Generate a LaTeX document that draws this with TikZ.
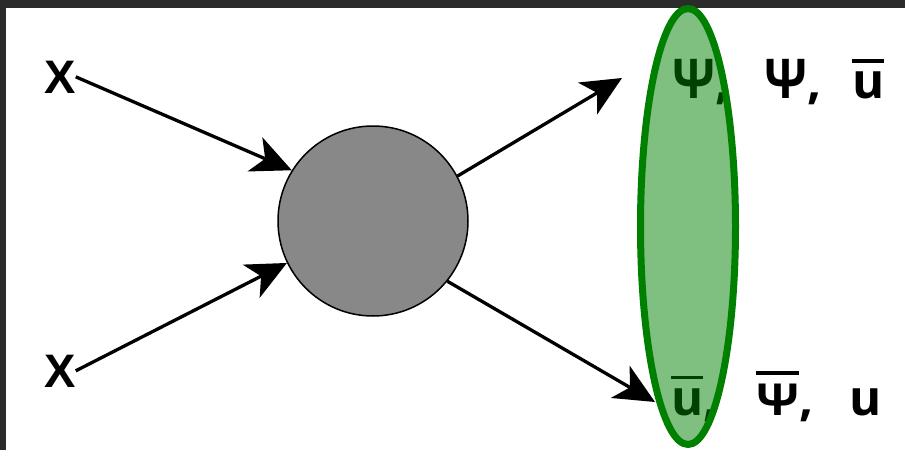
\documentclass[tikz,border=0pt]{standalone}
\usepackage{fontspec}
\setmainfont{Open Sans}
\newfontfamily\xfont{Liberation Sans}
\usetikzlibrary{arrows.meta,shapes.geometric}
\definecolor{framegray}{HTML}{2B2B2B}
\definecolor{dgreen}{HTML}{008000}
\definecolor{blobgray}{HTML}{888888}
\newcommand\barred[2]{\leavevmode\vbox{\hrule height 3.5pt\kern #1\hbox{#2}}}
\begin{document}
\begin{tikzpicture}[x=1pt,y=-1pt,
  blob/.style={circle,draw=black,line width=1.5pt,fill=blobgray,minimum size=190pt,inner sep=0pt},
  xlab/.style={anchor=base west,inner sep=0pt,font=\xfont\bfseries\fontsize{47}{47}\selectfont},
  lab/.style={anchor=base west,inner sep=0pt,font=\bfseries\fontsize{49}{49}\selectfont},
  arr/.style={line width=3.3pt,-{Stealth[length=40pt,width=37pt,inset=11pt]}},
  oval/.style={ellipse,draw=dgreen,line width=7pt,fill=dgreen,fill opacity=0.5,draw opacity=1,minimum width=95pt,minimum height=436pt,inner sep=0pt}]
\fill[framegray] (0,0) rectangle (905,450);
\fill[white] (6,8) rectangle (905,450);
\useasboundingbox (0,0) rectangle (905,450);
\node[blob] (c) at (373,221) {};
\node[xlab] (x1) at (44,93) {X};
\node[xlab] (x2) at (44,387) {X};
\coordinate (t1) at (622,78);
\coordinate (t2) at (655,402);
\draw[arr] (x1.east) -- (c.148);
\draw[arr] (x2.east) -- (c.206);
\draw[arr] (c.28) -- (t1);
\draw[arr] (c.-39) -- (t2);
\node[lab] (a1) at (672,98) {\scalebox{1}[1.12]{Ψ},};
\node[lab] (a2) at (764,98) {\scalebox{1}[1.12]{Ψ},};
\node[lab] (a3) at (852,98) {\barred{8.5pt}{u}};
\node[lab] (b1) at (671,415) {\barred{9pt}{u},};
\node[lab] (b2) at (756,415) {\barred{9pt}{\scalebox{1}[0.9]{Ψ}},};
\node[lab] (b3) at (849,415) {u};
\node[oval] (e) at (688,226.5) {};
\end{tikzpicture}
\end{document}
